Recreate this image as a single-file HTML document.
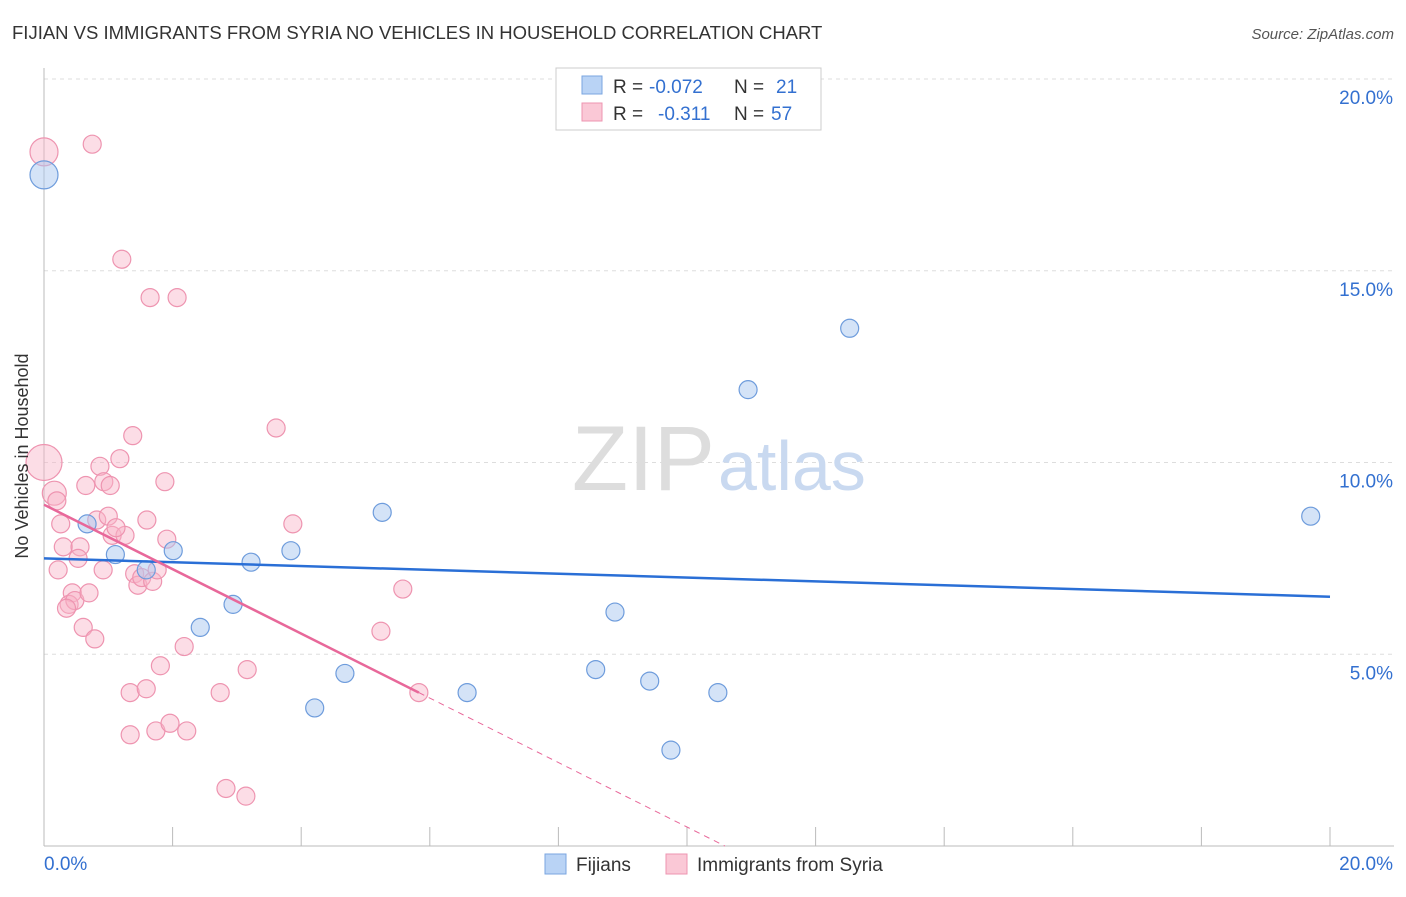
<!DOCTYPE html>
<html><head><meta charset="utf-8"><style>
body{margin:0;background:#fff;font-family:"Liberation Sans",sans-serif;}
svg text{font-family:"Liberation Sans",sans-serif;}
</style></head><body>
<svg width="1406" height="892" viewBox="0 0 1406 892" xmlns="http://www.w3.org/2000/svg">
<text x="12" y="39" font-size="18.5" fill="#333">FIJIAN VS IMMIGRANTS FROM SYRIA NO VEHICLES IN HOUSEHOLD CORRELATION CHART</text>
<text x="1394" y="39" font-size="15" fill="#555" text-anchor="end" font-style="italic">Source: ZipAtlas.com</text>
<g id="grid"></g>
<g id="axes"></g>
<text x="715" y="490" font-size="92" fill="#ddd" text-anchor="end" font-family="Liberation Serif">ZIP</text>
<text x="718" y="490" font-size="70" fill="#c9d9f0">atlas</text>
<g id="pts"></g>
<g id="trends"></g>
<text x="28" y="456" font-size="18" fill="#333" text-anchor="middle" transform="rotate(-90 28 456)">No Vehicles in Household</text>
<g>
<rect x="556" y="68" width="265" height="62" fill="#fff" stroke="#ccc"/>
<rect x="582" y="76" width="20" height="18" fill="#b9d3f5" stroke="#7aa6e0"/>
<rect x="582" y="103" width="20" height="18" fill="#fac8d6" stroke="#ee94b0"/>
<text x="613" y="93" font-size="19" fill="#333">R =</text>
<text x="649" y="93" font-size="19" fill="#3370d0">-0.072</text>
<text x="734" y="93" font-size="19" fill="#333">N =</text>
<text x="776" y="93" font-size="19" fill="#3370d0">21</text>
<text x="613" y="120" font-size="19" fill="#333">R =</text>
<text x="658" y="120" font-size="19" fill="#3370d0">-0.311</text>
<text x="734" y="120" font-size="19" fill="#333">N =</text>
<text x="771" y="120" font-size="19" fill="#3370d0">57</text>
</g>
<g>
<rect x="545" y="854" width="21" height="20" fill="#b9d3f5" stroke="#7aa6e0"/>
<text x="576" y="871" font-size="19" fill="#333">Fijians</text>
<rect x="666" y="854" width="21" height="20" fill="#fac8d6" stroke="#ee94b0"/>
<text x="697" y="871" font-size="19" fill="#333">Immigrants from Syria</text>
</g>
</svg>
<script>
const yTicks=[5,10,15,20];
const yTickLabels=["5.0%","10.0%","15.0%","20.0%"];
const fijiX=[0,0.67,1.11,1.59,2.01,2.43,2.94,3.22,3.84,4.21,4.68,5.26,6.58,8.58,8.88,9.42,9.75,10.48,10.95,12.53,19.7];
const fijiY=[17.5,8.4,7.6,7.2,7.7,5.7,6.3,7.4,7.7,3.6,4.5,8.7,4.0,4.6,6.1,4.3,2.5,4.0,11.9,13.5,8.6];
const fijiR=[14,9,9,9,9,9,9,9,9,9,9,9,9,9,9,9,9,9,9,9,9];
const syrX=[0,0.75,1.21,1.65,2.07,0,0.16,0.2,0.26,0.3,0.22,0.44,0.39,0.48,0.56,0.53,0.61,0.7,0.79,0.65,0.87,0.82,0.93,0.92,1.03,1.0,1.06,1.18,1.26,1.12,1.38,1.41,1.46,1.52,1.6,1.69,1.76,1.88,1.91,1.34,1.59,1.81,1.34,1.74,1.96,2.22,2.18,2.74,2.83,3.14,3.16,3.61,3.87,5.24,5.58,5.83,0.35];
const syrY=[18.1,18.3,15.3,14.3,14.3,10.0,9.2,9.0,8.4,7.8,7.2,6.6,6.3,6.4,7.8,7.5,5.7,6.6,5.4,9.4,9.9,8.5,9.5,7.2,9.4,8.6,8.1,10.1,8.1,8.3,10.7,7.1,6.8,7.0,8.5,6.9,7.2,9.5,8.0,4.0,4.1,4.7,2.9,3.0,3.2,3.0,5.2,4.0,1.5,1.3,4.6,10.9,8.4,5.6,6.7,4.0,6.2];
const syrR=[14,9,9,9,9,18,12,9,9,9,9,9,9,9,9,9,9,9,9,9,9,9,9,9,9,9,9,9,9,9,9,9,9,9,9,9,9,9,9,9,9,9,9,9,9,9,9,9,9,9,9,9,9,9,9,9,9];
const fijiTrend=[7.5,6.5];
const syrTrend=[8.9,4.0];
const x0=44,x1=1330,y0=846,y20=79;
const sx=v=>x0+(x1-x0)*v/20;
const sy=v=>y0-(y0-y20)*v/20;
const NS="http://www.w3.org/2000/svg";
function mk(t,a,p){const e=document.createElementNS(NS,t);for(const k in a)e.setAttribute(k,a[k]);p.appendChild(e);return e;}
const grid=document.getElementById('grid'),axes=document.getElementById('axes');
yTicks.forEach((t,i)=>{
 const l=mk('line',{x1:x0,x2:1394,y1:sy(t),y2:sy(t),stroke:'#ddd','stroke-dasharray':'4,4'},grid);
 
 
 const tx=mk('text',{x:1393,y:sy(t)+25,'font-size':19,fill:'#3370d0','text-anchor':'end'},axes);
 tx.textContent=yTickLabels[i];
 
 
});
const ax=mk('line',{x1:x0,x2:x0,y1:68,y2:y0,stroke:'#bbb'},axes);


const bx=mk('line',{x1:x0,x2:1394,y1:y0,y2:y0,stroke:'#bbb'},axes);


for(let i=0;i<=10;i++){const t=mk('line',{x1:sx(i*2),x2:sx(i*2),y1:827,y2:y0,stroke:'#bbb'},axes);
 
 }
[["0.0%",x0,'start'],["20.0%",1393,'end']].forEach(([s,x,a])=>{const t=mk('text',{x:x,y:870,'font-size':19,fill:'#3370d0','text-anchor':a},axes);t.textContent=s;
 
 });
const pts=document.getElementById('pts');
syrX.forEach((v,i)=>{const c=mk('circle',{cx:sx(v),cy:sy(syrY[i]),r:syrR[i],fill:'rgba(248,180,200,0.45)',stroke:'#ee94b0','stroke-width':1.2},pts);
 
 });
fijiX.forEach((v,i)=>{const c=mk('circle',{cx:sx(v),cy:sy(fijiY[i]),r:fijiR[i],fill:'rgba(170,200,240,0.5)',stroke:'#6e9cdc','stroke-width':1.2},pts);
 
 });
const tr=document.getElementById('trends');
const fl=mk('line',{x1:sx(0),y1:sy(fijiTrend[0]),x2:sx(20),y2:sy(fijiTrend[1]),stroke:'#2a6fd6','stroke-width':2.5},tr);


const xe=5.83,slope=(syrTrend[1]-syrTrend[0])/xe,xz=-syrTrend[0]/slope;
const sl=mk('line',{x1:sx(0),y1:sy(syrTrend[0]),x2:sx(xe),y2:sy(syrTrend[1]),stroke:'#e8689a','stroke-width':2.5},tr);


const sd=mk('line',{x1:sx(xe),y1:sy(syrTrend[1]),x2:sx(xz),y2:sy(0),stroke:'#e8689a','stroke-width':1,'stroke-dasharray':'6,5'},tr);


</script>
</body></html>
